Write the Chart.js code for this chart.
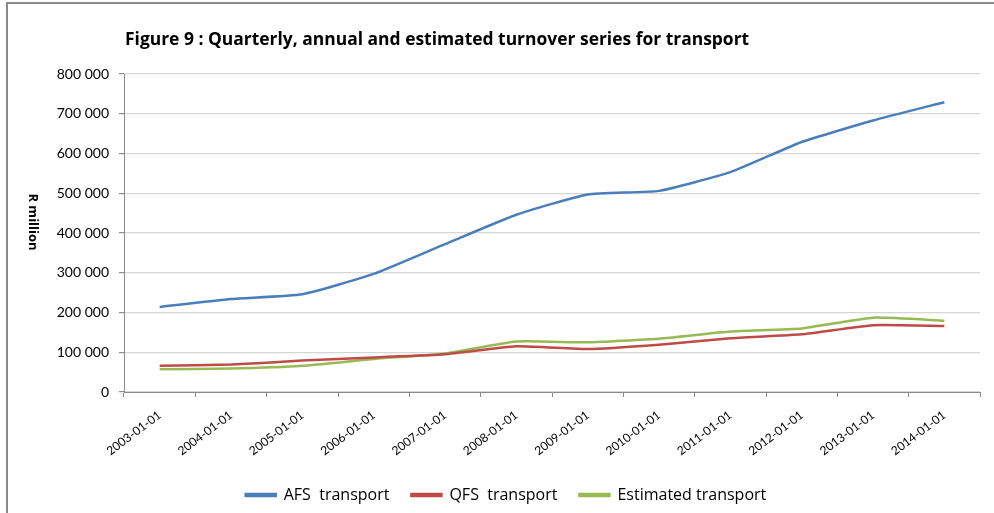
<!DOCTYPE html>
<html>
<head>
<meta charset="utf-8">
<script src="https://cdn.jsdelivr.net/npm/chart.js@4/dist/chart.umd.min.js"></script>
<style>
    html, body { margin: 0; padding: 0; background: #fff; }
    #wrap { position: relative; width: 994px; height: 513px; }
    #frame {
        position: absolute; left: 6px; top: 2px; right: 0; bottom: 0;
        border-left: 2px solid #8a8a8a; border-top: 2px solid #8a8a8a;
        pointer-events: none;
    }
    canvas { position: absolute; left: 0; top: 0; }
</style>
</head>
<body>
<div id="wrap">
    <canvas id="chartTransport" width="994" height="513"></canvas>
    <div id="frame"></div>
</div>
<script>
// Dados (R million)
var years = ['2003-01-01', '2004-01-01', '2005-01-01', '2006-01-01', '2007-01-01', '2008-01-01',
             '2009-01-01', '2010-01-01', '2011-01-01', '2012-01-01', '2013-01-01', '2014-01-01'];
var afs = [214000, 234000, 246000, 297000, 372000, 446000, 497000, 506000, 553000, 629000, 683000, 729000];
var qfs = [66000, 69000, 79000, 87000, 95000, 115000, 108000, 119000, 135000, 145000, 168000, 166000];
var est = [57000, 59000, 66000, 83000, 97000, 127000, 125000, 134000, 152000, 160000, 187000, 179000];
var yTicks = [0, 100000, 200000, 300000, 400000, 500000, 600000, 700000, 800000];

var titleText = 'Figure 9 : Quarterly, annual and estimated turnover series for transport';
var yTitle = 'R million';
var font = 'Lato';
var font2 = '"Open Sans"';

function fmt(v){
    return v.toString().replace(/\B(?=(\d{3})+(?!\d))/g, ' ');
}

// titulo e eixo y desenhados a mao (texto vertical de cima para baixo)
var extraText = {
    id: 'extraText',
    afterDraw: function(chart){
        var c = chart.ctx;
        c.save();
        c.fillStyle = '#000';
        c.font = 'bold 16px ' + font2;
        var w = c.measureText(titleText).width;
        var size = 16 * 625 / w;
        c.font = 'bold ' + size.toFixed(2) + 'px ' + font2;
        c.textBaseline = 'alphabetic';
        c.textAlign = 'left';
        c.fillText(titleText, 125, 45);

        c.translate(33, 222);
        c.rotate(Math.PI / 2);
        c.font = 'bold 13px ' + font2;
        c.textAlign = 'center';
        c.textBaseline = 'middle';
        c.fillText(yTitle, 0, 0);
        c.restore();
    }
};

var ctx = document.getElementById('chartTransport').getContext('2d');
var chart = new Chart(ctx, {
    type: 'line',
    data: {
        labels: years,
        datasets: [
            {
                label: 'AFS  transport',
                data: afs,
                borderColor: '#4A7EBB',
                backgroundColor: '#4A7EBB',
                borderWidth: 2.5,
                pointRadius: 0,
                tension: 0.15
            },
            {
                label: 'QFS  transport',
                data: qfs,
                borderColor: '#BE4B48',
                backgroundColor: '#BE4B48',
                borderWidth: 2.5,
                pointRadius: 0,
                tension: 0.15
            },
            {
                label: 'Estimated transport',
                data: est,
                borderColor: '#98B954',
                backgroundColor: '#98B954',
                borderWidth: 2.5,
                pointRadius: 0,
                tension: 0.15
            }
        ]
    },
    options: {
        responsive: false,
        animation: false,
        layout: { padding: { top: 74, right: 14, bottom: 0, left: 32 } },
        plugins: {
            title: { display: false },
            tooltip: { enabled: false },
            legend: {
                position: 'bottom',
                labels: {
                    boxWidth: 30,
                    boxHeight: 2,
                    padding: 22,
                    color: '#000',
                    font: { family: 'Open Sans', size: 16 }
                }
            }
        },
        scales: {
            x: {
                offset: true,
                grid: {
                    offset: true,
                    drawOnChartArea: false,
                    drawTicks: true,
                    tickLength: 5,
                    color: '#8a8a8a'
                },
                border: { display: true, color: '#8a8a8a', width: 1 },
                ticks: {
                    minRotation: 37,
                    maxRotation: 37,
                    autoSkip: false,
                    color: '#000',
                    padding: 11,
                    font: { family: font, size: 12 }
                },
                afterFit: function(scale){ scale.height = 73; }
            },
            y: {
                min: 0,
                max: 800000,
                afterBuildTicks: function(scale){
                    scale.ticks = yTicks.map(function(v){ return { value: v }; });
                },
                grid: {
                    color: '#d6d6d6',
                    lineWidth: 1.2,
                    drawTicks: true,
                    tickLength: 5,
                    tickColor: '#8a8a8a'
                },
                border: { display: true, color: '#8a8a8a', width: 1 },
                ticks: {
                    color: '#000',
                    padding: 10,
                    font: { family: font, size: 14 },
                    callback: function(v){ return fmt(v); }
                },
                afterFit: function(scale){ scale.width = 92; }
            }
        }
    },
    plugins: [extraText]
});
</script>
</body>
</html>
